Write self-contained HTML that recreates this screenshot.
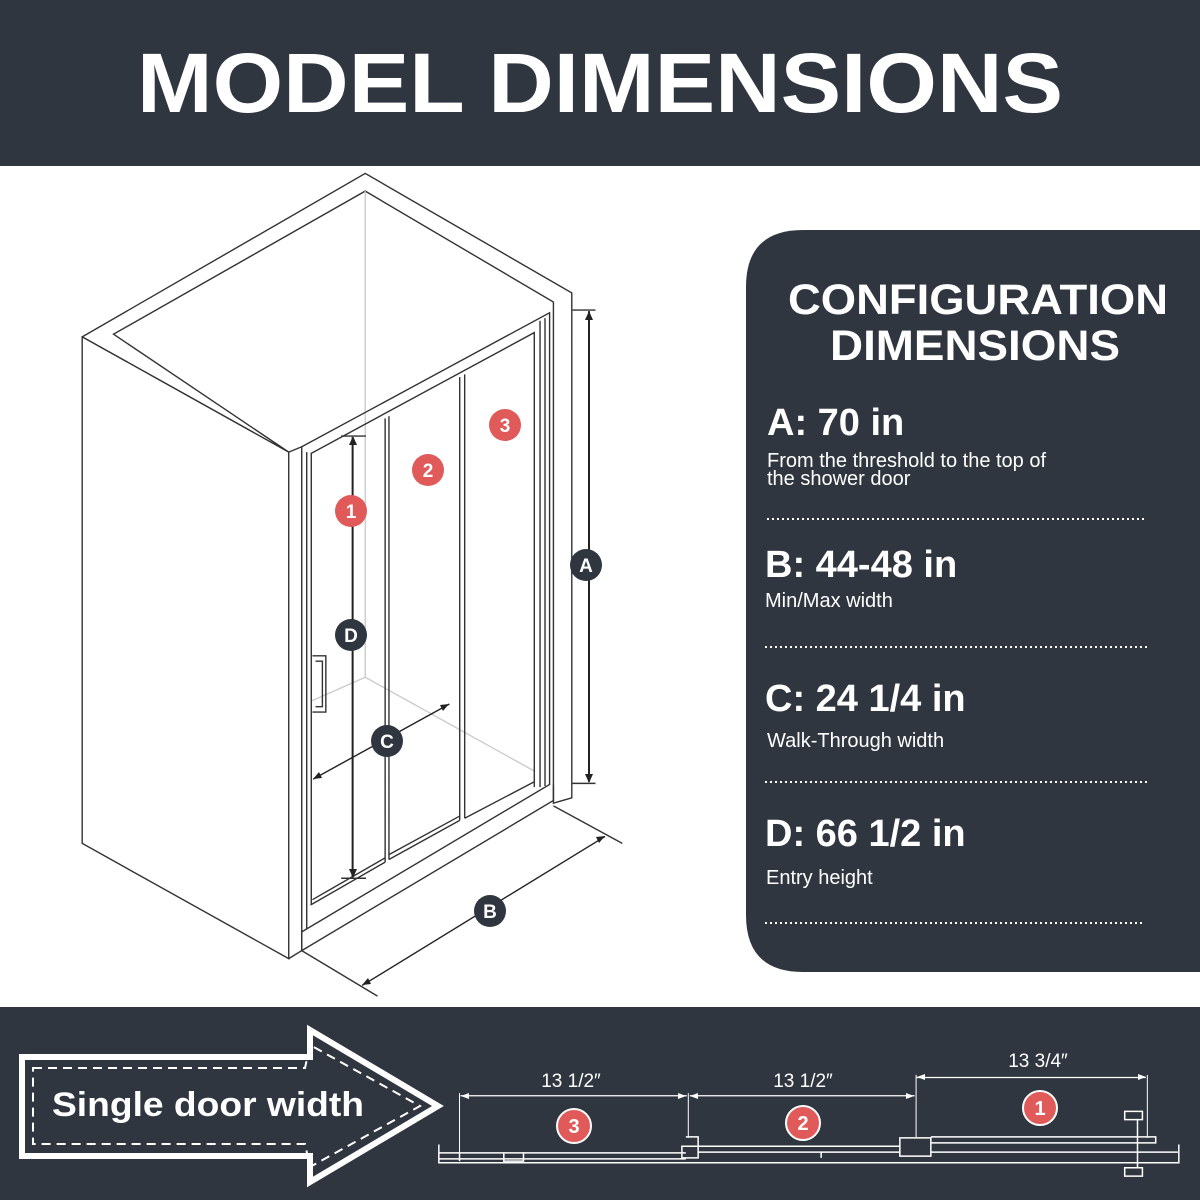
<!DOCTYPE html>
<html><head><meta charset="utf-8"><style>
html,body{margin:0;padding:0;background:#fff;}
svg{display:block;font-family:"Liberation Sans",sans-serif;}
</style></head><body>
<svg width="1200" height="1200" viewBox="0 0 1200 1200" xmlns="http://www.w3.org/2000/svg">
<rect width="1200" height="1200" fill="#fff"/>
<rect width="1200" height="166" fill="#30363f"/>
<text x="600" y="112" text-anchor="middle" font-size="84" font-weight="bold" fill="#fff" textLength="926" lengthAdjust="spacingAndGlyphs">MODEL DIMENSIONS</text>

<!-- shower drawing -->
<g transform="translate(60,160) scale(0.3825,0.536)" fill="none" stroke="#333" stroke-width="1.4">
<g vector-effect="non-scaling-stroke">
<path vector-effect="non-scaling-stroke" d="M58,330 L798,25 L1338,248 L1338,1190 L1290,1200 L1290,265 L798,58 L140,325 L598,545 L58,330" fill="#fff"/>
<path vector-effect="non-scaling-stroke" d="M58,330 L58,1275 L598,1490 L598,545 Z" fill="#fff"/>
<path vector-effect="non-scaling-stroke" d="M598,545 L632,535 L632,1475 L598,1490"/>
<path vector-effect="non-scaling-stroke" d="M798,58 L798,965 M798,965 L655,1010 M798,965 L1240,1140" stroke="#ccc"/>
<path vector-effect="non-scaling-stroke" d="M632,535 L1280,285 L1280,1165 L632,1440"/>
<path vector-effect="non-scaling-stroke" d="M655,548 L1240,322 L1240,1170 M1255,300 L1255,1170 M1268,295 L1268,1168"/>
<path vector-effect="non-scaling-stroke" d="M645,545 L645,1435 M657,548 L657,1390 M655,1390 L850,1310 M660,1380 L850,1302"/>
<path vector-effect="non-scaling-stroke" d="M632,1440 L632,1475 L1290,1195 L1290,1165"/>
<path vector-effect="non-scaling-stroke" d="M850,482 L850,1310 M860,478 L860,1305 M1045,405 L1045,1232 M1058,400 L1058,1228 M860,1305 L1045,1232 M860,1296 L1045,1224 M1058,1228 L1240,1160"/>
<path vector-effect="non-scaling-stroke" d="M660,925 L695,925 L695,1030 L660,1030 M668,935 L686,935 L686,1020 L668,1020"/>
<path vector-effect="non-scaling-stroke" d="M1383,282 L1383,1160" stroke="#222" stroke-width="2"/>
<path vector-effect="non-scaling-stroke" d="M1340,280 L1400,280 M1340,1163 L1400,1163"/>
<path vector-effect="non-scaling-stroke" d="M765,517 L765,1338" stroke="#222" stroke-width="2"/>
<path vector-effect="non-scaling-stroke" d="M735,515 L800,515 M735,1340 L800,1340"/>
<path vector-effect="non-scaling-stroke" d="M662,1155 L1018,1015" stroke="#222"/>
<path vector-effect="non-scaling-stroke" d="M790,1540 L1425,1262" stroke="#222"/>
<path vector-effect="non-scaling-stroke" d="M632,1475 L830,1560 M1290,1205 L1470,1275"/>
</g>
</g>
<!-- arrowheads in real coords -->
<g fill="#222">
<path d="M589,311 l-4,9 h8 z"/><path d="M589,783 l-4,-9 h8 z"/>
<path d="M353,436 l-4,9 h8 z"/><path d="M353,878 l-4,-9 h8 z"/>
<path d="M313,779 l9,-1 -3,-6 z"/><path d="M449,704 l-9,1 3,6 z"/>
<path d="M362,985 l9,-1 -3,-6 z"/><path d="M605,836 l-9,1 3,6 z"/>
</g>
<g font-weight="bold" text-anchor="middle" font-size="19">
<circle cx="351" cy="511" r="16" fill="#e05a5a"/><text x="351" y="518" fill="#fff">1</text>
<circle cx="428" cy="470" r="16" fill="#e05a5a"/><text x="428" y="477" fill="#fff">2</text>
<circle cx="505" cy="425" r="16" fill="#e05a5a"/><text x="505" y="432" fill="#fff">3</text>
<circle cx="351" cy="635" r="16" fill="#30363f"/><text x="351" y="642" fill="#fff">D</text>
<circle cx="387" cy="741" r="16" fill="#30363f"/><text x="387" y="748" fill="#fff">C</text>
<circle cx="586" cy="565" r="16" fill="#30363f"/><text x="586" y="572" fill="#fff">A</text>
<circle cx="490" cy="911" r="16" fill="#30363f"/><text x="490" y="918" fill="#fff">B</text>
</g>

<!-- card -->
<path d="M803,230 L1200,230 L1200,972 L803,972 Q746,972 746,915 L746,287 Q746,230 803,230 Z" fill="#30363f"/>
<g fill="#fff">
<text x="978" y="314" text-anchor="middle" font-size="43" font-weight="bold" textLength="380" lengthAdjust="spacingAndGlyphs">CONFIGURATION</text>
<text x="975" y="360" text-anchor="middle" font-size="43" font-weight="bold" textLength="290" lengthAdjust="spacingAndGlyphs">DIMENSIONS</text>
<text x="767" y="435" font-size="38" font-weight="bold">A: 70 in</text>
<text x="767" y="467" font-size="20">From the threshold to the top of</text>
<text x="767" y="485" font-size="20">the shower door</text>
<text x="765" y="577" font-size="38" font-weight="bold">B: 44-48 in</text>
<text x="765" y="607" font-size="20">Min/Max width</text>
<text x="765" y="711" font-size="38" font-weight="bold">C: 24 1/4 in</text>
<text x="767" y="747" font-size="20">Walk-Through width</text>
<text x="765" y="846" font-size="38" font-weight="bold">D: 66 1/2 in</text>
<text x="766" y="884" font-size="20">Entry height</text>
</g>
<g stroke="#fff" stroke-width="2" stroke-dasharray="2,3">
<path d="M767,519 L1147,519"/><path d="M765,647 L1147,647"/><path d="M765,782 L1147,782"/><path d="M765,923 L1145,923"/>
</g>

<!-- bottom band -->
<rect y="1007" width="1200" height="193" fill="#30363f"/>
<path d="M22,1057 L310,1057 L310,1030 L438,1106 L310,1182 L310,1156 L22,1156 Z" fill="none" stroke="#fff" stroke-width="6"/>
<path d="M33,1068 L305,1068 L310,1045 L420,1106 L310,1167 L305,1144 L33,1144 Z" fill="none" stroke="#fff" stroke-width="2" stroke-dasharray="9,6"/>
<text x="52" y="1116" font-size="34" font-weight="bold" fill="#fff" textLength="312" lengthAdjust="spacingAndGlyphs">Single door width</text>

<g transform="translate(430,1030) scale(0.492,0.332)" fill="none" stroke="#fff">
<path vector-effect="non-scaling-stroke" stroke-width="1.2" d="M62,198 L522,198 M528,198 L985,198 M988,143 L1455,143"/>
<path vector-effect="non-scaling-stroke" stroke-width="1" d="M60,190 L60,370 M525,190 L525,325 M988,135 L988,325 M1458,135 L1458,325"/>
<path vector-effect="non-scaling-stroke" stroke-width="1.5" d="M18,345 L18,400 L1522,400 L1522,345 M18,370 L520,370 M18,388 L520,388 M60,370 L60,395 M150,370 L150,395 L190,395 L190,370"/>
<path vector-effect="non-scaling-stroke" stroke-width="1.5" d="M512,350 L545,350 L545,385 L512,385 Z M520,322 L545,322 L545,350"/>
<path vector-effect="non-scaling-stroke" stroke-width="1.5" d="M545,350 L955,350 M545,368 L955,368 M795,368 L795,385"/>
<path vector-effect="non-scaling-stroke" stroke-width="1.5" d="M955,325 L1018,325 L1018,380 L955,380 Z M1018,322 L1475,322 L1475,340 L1018,340"/>
<path vector-effect="non-scaling-stroke" stroke-width="1.5" d="M1018,368 L1520,368 M1412,245 L1448,245 L1448,270 L1412,270 Z M1412,415 L1448,415 L1448,440 L1412,440 Z M1438,270 L1438,415"/>
</g>
<g fill="#fff">
<path d="M461,1096 l8,-3 v6 z"/><path d="M686,1096 l-8,-3 v6 z"/>
<path d="M690,1096 l8,-3 v6 z"/><path d="M914,1096 l-8,-3 v6 z"/>
<path d="M917,1077 l8,-3 v6 z"/><path d="M1146,1077 l-8,-3 v6 z"/>
</g>
<g fill="#fff" font-size="19" text-anchor="middle">
<text x="571" y="1087">13 1/2″</text>
<text x="803" y="1087">13 1/2″</text>
<text x="1038" y="1067">13 3/4″</text>
</g>
<g font-weight="bold" text-anchor="middle" font-size="20">
<circle cx="574" cy="1126" r="17" fill="#e05a5a" stroke="#fff" stroke-width="2"/><text x="574" y="1133" fill="#fff">3</text>
<circle cx="803" cy="1123" r="17" fill="#e05a5a" stroke="#fff" stroke-width="2"/><text x="803" y="1130" fill="#fff">2</text>
<circle cx="1040" cy="1108" r="17" fill="#e05a5a" stroke="#fff" stroke-width="2"/><text x="1040" y="1115" fill="#fff">1</text>
</g>
</svg>
</body></html>
